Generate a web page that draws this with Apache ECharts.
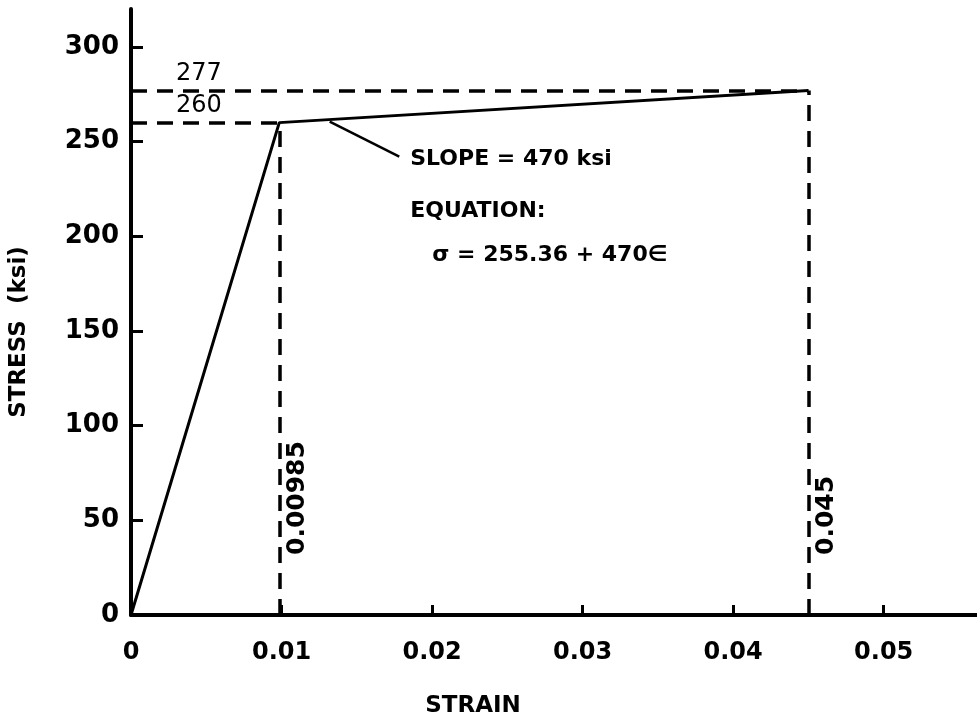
<!DOCTYPE html>
<html>
<head>
<meta charset="utf-8">
<script src="https://cdn.jsdelivr.net/npm/echarts@6/dist/echarts.min.js"></script>
<style>
  html, body { margin: 0; padding: 0; background: #fff; }
  #chart { width: 977px; height: 723px; }
</style>
</head>
<body>
<div id="chart"></div>
<script>
// stress-strain idealisation: elastic line then linear plateau
var strain = [0, 0.00985, 0.045];
var stress = [0, 260, 277];
var xTicks = ["0", "0.01", "0.02", "0.03", "0.04", "0.05"];
var yTicks = ["0", "50", "100", "150", "200", "250", "300"];
var refStrainLabels = ["0.00985", "0.045"];
var refStressLabels = ["260", "277"];
var slopeText = "SLOPE = 470 ksi";
var equationTitle = "EQUATION:";
var equationText = "σ = 255.36 + 470∈";

var FONT = "DejaVu Sans";
var dash = [16, 10];

var chart = echarts.init(document.getElementById("chart"), null, { renderer: "canvas" });

// dashed guide lines from the two corner points
var guides = [];
for (var i = 1; i < strain.length; i++) {
  guides.push([{ coord: [0, stress[i]] }, { coord: [strain[i], stress[i]] }]);
  guides.push([{ coord: [strain[i], 0] }, { coord: [strain[i], stress[i]] }]);
}

chart.setOption({
  backgroundColor: "#fff",
  animation: false,
  grid: { left: 128, right: 0, top: 9, bottom: 100, containLabel: false },
  xAxis: {
    type: "value",
    min: 0,
    max: 0.0562,
    interval: 0.01,
    name: "STRAIN",
    nameLocation: "middle",
    nameGap: 80,
    nameTextStyle: { fontFamily: FONT, fontWeight: "bold", fontSize: 23, color: "#000", padding: [0, 162, 0, 0] },
    axisLine: { lineStyle: { color: "#000", width: 4 } },
    axisTick: { inside: true, length: 10, lineStyle: { color: "#000", width: 3 } },
    axisLabel: {
      margin: 26,
      showMaxLabel: false,
      fontFamily: FONT,
      fontWeight: "bold",
      fontSize: 24,
      color: "#000",
      formatter: function (v) {
        return xTicks[Math.round(v / 0.01)] || "";
      }
    },
    splitLine: { show: false }
  },
  yAxis: {
    type: "value",
    min: 0,
    max: 320,
    interval: 50,
    name: "STRESS  (ksi)",
    nameLocation: "middle",
    nameGap: 100,
    nameTextStyle: { fontFamily: FONT, fontWeight: "bold", fontSize: 23, color: "#000", padding: [0, 40, 0, 0] },
    axisLine: { show: true, lineStyle: { color: "#000", width: 4 } },
    axisTick: { show: true, inside: true, length: 12, lineStyle: { color: "#000", width: 3 } },
    axisLabel: {
      margin: 12,
      showMaxLabel: false,
      fontFamily: FONT,
      fontWeight: "bold",
      fontSize: 26,
      color: "#000",
      formatter: function (v) {
        return yTicks[Math.round(v / 50)] || "";
      }
    },
    splitLine: { show: false }
  },
  series: [
    {
      type: "line",
      data: strain.map(function (s, k) { return [s, stress[k]]; }),
      symbol: "none",
      lineStyle: { color: "#000", width: 3 },
      markLine: {
        silent: true,
        symbol: "none",
        label: { show: false },
        lineStyle: { color: "#000", width: 3.5, type: dash },
        data: guides
      }
    }
  ]
});

// text annotations anchored to data points
function px(x, y) {
  return chart.convertToPixel({ gridIndex: 0 }, [x, y]);
}
var kink = px(strain[1], stress[1]);
var leaderStrain = 0.0132;
var leaderStress = stress[1] + (leaderStrain - strain[1]) / (strain[2] - strain[1]) * (stress[2] - stress[1]);
var leaderStart = px(leaderStrain, leaderStress);
var textStyle = { fontFamily: FONT, fontWeight: "bold", fontSize: 22, fill: "#000" };

var graphics = [];
// stress labels above the horizontal guides, strain labels along the vertical ones
for (var j = 1; j < stress.length; j++) {
  var a = px(0, stress[j]);
  graphics.push({
    type: "text",
    x: a[0] + 45,
    y: a[1] - 5,
    style: { text: refStressLabels[j - 1], font: "24px " + FONT, fill: "#000", textAlign: "left", textVerticalAlign: "bottom" }
  });
  var b = px(strain[j], 0);
  graphics.push({
    type: "text",
    x: b[0] + 6,
    y: b[1] - 60,
    rotation: Math.PI / 2,
    style: { text: refStrainLabels[j - 1], font: "bold 25px " + FONT, fill: "#000", textAlign: "left", textVerticalAlign: "top" }
  });
}
graphics.push({
  type: "line",
  shape: { x1: leaderStart[0], y1: leaderStart[1] + 2, x2: kink[0] + 120, y2: kink[1] + 34 },
  style: { stroke: "#000", lineWidth: 2.5 }
});
graphics.push({
  type: "text", x: kink[0] + 131, y: kink[1] + 37,
  style: Object.assign({ text: slopeText, textAlign: "left", textVerticalAlign: "middle" }, textStyle, { font: "bold 22px " + FONT })
});
graphics.push({
  type: "text", x: kink[0] + 131, y: kink[1] + 89,
  style: Object.assign({ text: equationTitle, textAlign: "left", textVerticalAlign: "middle" }, textStyle, { font: "bold 22px " + FONT })
});
graphics.push({
  type: "text", x: kink[0] + 153, y: kink[1] + 133,
  style: Object.assign({ text: equationText, textAlign: "left", textVerticalAlign: "middle" }, textStyle, { font: "bold 24px " + FONT })
});

chart.setOption({ graphic: graphics });
</script>
</body>
</html>
